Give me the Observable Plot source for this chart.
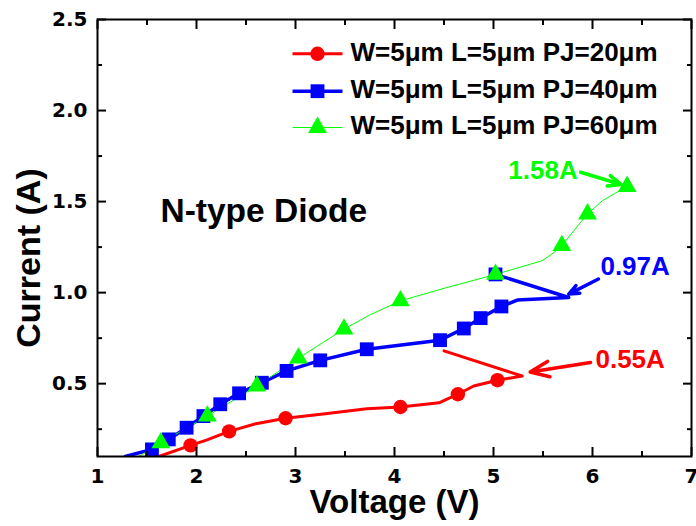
<!DOCTYPE html>
<html><head><meta charset="utf-8">
<script src="https://cdn.jsdelivr.net/npm/d3@7"></script>
<script src="https://cdn.jsdelivr.net/npm/@observablehq/plot@0.6"></script>
<style>html,body{margin:0;padding:0;background:#fff}</style>
</head><body><div id="chart"></div>
<script>
// ---- axes ----
const xTicks = [1, 2, 3, 4, 5, 6, 7];
const xTickLabels = ["1", "2", "3", "4", "5", "6", "7"];
const xMinor = [1.5, 2.5, 3.5, 4.5, 5.5, 6.5];
const yTicks = [0.5, 1.0, 1.5, 2.0, 2.5];
const yTickLabels = ["0.5", "1.0", "1.5", "2.0", "2.5"];
const yMinor = [0.25, 0.75, 1.25, 1.75, 2.25];
const xLabel = "Voltage (V)";
const yLabel = "Current (A)";

// ---- series (Voltage V, Current A) ----
const seriesNames = ["W=5\u03bcm L=5\u03bcm PJ=20\u03bcm", "W=5\u03bcm L=5\u03bcm PJ=40\u03bcm", "W=5\u03bcm L=5\u03bcm PJ=60\u03bcm"];
const seriesColors = ["#ff0000", "#0000ff", "#00ff00"];
const seriesSymbols = ["circle", "square", "triangle"];

const redLine = [[1.62,0.10],[1.94,0.161],[2.10,0.19],[2.33,0.238],[2.60,0.28],[2.90,0.31],[3.30,0.335],[3.72,0.362],[4.06,0.372],[4.45,0.395],[4.64,0.442],[4.80,0.487],[5.04,0.519],[5.29,0.542],[4.50,0.68]];
const redPts = [[1.94,0.161],[2.33,0.238],[2.90,0.31],[4.06,0.372],[4.64,0.442],[5.04,0.519]];

const blueLine = [[1.28,0.10],[1.55,0.139],[1.72,0.194],[1.90,0.258],[2.07,0.322],[2.24,0.387],[2.43,0.447],[2.66,0.505],[2.91,0.57],[3.25,0.628],[3.72,0.689],[4.46,0.739],[4.70,0.803],[4.87,0.86],[5.08,0.924],[5.24,0.959],[5.76,0.973],[5.02,1.10]];
const bluePts = [[1.35,0.064],[1.55,0.139],[1.72,0.194],[1.90,0.258],[2.07,0.322],[2.24,0.387],[2.43,0.447],[2.66,0.505],[2.91,0.57],[3.25,0.628],[3.72,0.689],[4.46,0.739],[4.70,0.803],[4.87,0.86],[5.08,0.924],[5.02,1.10]];

const greenLine = [[1.42,0.10],[1.64,0.175],[2.11,0.322],[2.61,0.487],[3.03,0.64],[3.49,0.80],[3.76,0.88],[4.06,0.955],[4.53,1.028],[5.02,1.10],[5.49,1.175],[5.61,1.22],[5.69,1.258],[5.88,1.386],[5.95,1.432],[6.10,1.505],[6.35,1.583]];
const greenPts = [[1.64,0.175],[2.11,0.322],[2.61,0.487],[3.03,0.64],[3.49,0.80],[4.06,0.955],[5.02,1.10],[5.69,1.258],[5.95,1.432],[6.35,1.583]];

// ---- annotations ----
const noteText = "N-type Diode";
const notePos = [1.636, 1.445];
const peakLabels = ["1.58A", "0.97A", "0.55A"];
const peakLabelX = [5.15, 6.08, 6.03];
const peakLabelY = [1.671, 1.142, 0.630];
const peakColors = ["#00ff00", "#0000ff", "#ff0000"];
const arrowX1 = [5.88, 6.06, 5.98];
const arrowY1 = [1.661, 1.075, 0.616];
const arrowX2 = [6.29, 5.76, 5.37];
const arrowY2 = [1.594, 0.992, 0.564];

const lineWidths = [3, 3.5, 1];
const markerR = [7.2, 7.8, 7];
const lines = [redLine, blueLine, greenLine];
const pts = [redPts, bluePts, greenPts];

const annots = peakLabels.map((t, i) => ({t, x: peakLabelX[i], y: peakLabelY[i], c: peakColors[i],
  x1: arrowX1[i], y1: arrowY1[i], x2: arrowX2[i], y2: arrowY2[i]}));

const lineSym = {draw(ctx) { ctx.moveTo(-25, 0); ctx.lineTo(25, 0); }};
const arial = "'Liberation Sans', Arial, Helvetica, sans-serif";
const tickFont = "'DejaVu Sans', sans-serif";

const marks = [];
// data
for (let s = 0; s < 3; s++) {
  marks.push(Plot.line(lines[s], {x: d => d[0], y: d => d[1], stroke: seriesColors[s], strokeWidth: lineWidths[s], clip: "frame"}));
}
for (let s = 0; s < 3; s++) {
  marks.push(Plot.dot(pts[s], {x: d => d[0], y: d => d[1], symbol: seriesSymbols[s], r: markerR[s], fill: seriesColors[s], stroke: "none", clip: "frame"}));
}
// arrows and labels
marks.push(Plot.arrow(annots, {x1: "x1", y1: "y1", x2: "x2", y2: "y2", stroke: "c", strokeWidth: 3.5, headLength: 15, headAngle: 45}));
marks.push(Plot.text(annots, {x: "x", y: "y", text: "t", fill: "c", textAnchor: "start", lineAnchor: "middle", fontSize: 26, fontWeight: "bold", fontFamily: arial}));
marks.push(Plot.text([noteText], {x: () => notePos[0], y: () => notePos[1], text: d => d, textAnchor: "start", lineAnchor: "middle", fontSize: 33.5, fontWeight: "bold", fontFamily: arial, fill: "black"}));

// legend
const legendDy = [34.3, 71.7, 108];
for (let s = 0; s < 3; s++) {
  marks.push(Plot.dot([0], {x: null, y: null, frameAnchor: "top-left", dx: 220, dy: legendDy[s], symbol: lineSym, r: 1, fill: "none", stroke: seriesColors[s], strokeWidth: lineWidths[s]}));
  marks.push(Plot.dot([0], {x: null, y: null, frameAnchor: "top-left", dx: 220, dy: legendDy[s], symbol: seriesSymbols[s], r: markerR[s], fill: seriesColors[s], stroke: "none"}));
  marks.push(Plot.text([seriesNames[s]], {x: null, y: null, frameAnchor: "top-left", dx: 253, dy: legendDy[s] - 1.5, text: d => d, textAnchor: "start", lineAnchor: "middle", fontSize: 26, fontWeight: "bold", fontFamily: arial, fill: "black"}));
}

// axes ticks (inward, all four sides)
const noText = () => "";
marks.push(Plot.axisX({ticks: xTicks, tickSize: -9, tickFormat: noText, label: null, strokeWidth: 2}));
marks.push(Plot.axisX({ticks: xMinor, tickSize: -5, tickFormat: noText, label: null, strokeWidth: 2}));
marks.push(Plot.axisX({anchor: "top", ticks: xTicks, tickSize: -9, tickFormat: noText, label: null, strokeWidth: 2}));
marks.push(Plot.axisX({anchor: "top", ticks: xMinor, tickSize: -5, tickFormat: noText, label: null, strokeWidth: 2}));
marks.push(Plot.axisY({ticks: yTicks, tickSize: -9, tickFormat: noText, label: null, strokeWidth: 2}));
marks.push(Plot.axisY({ticks: yMinor, tickSize: -5, tickFormat: noText, label: null, strokeWidth: 2}));
marks.push(Plot.axisY({anchor: "right", ticks: yTicks, tickSize: -9, tickFormat: noText, label: null, strokeWidth: 2}));
marks.push(Plot.axisY({anchor: "right", ticks: yMinor, tickSize: -5, tickFormat: noText, label: null, strokeWidth: 2}));
marks.push(Plot.frame({stroke: "black", strokeWidth: 2}));

// tick labels
marks.push(Plot.text(xTicks, {x: d => d, y: null, frameAnchor: "bottom", dy: 20, text: (d, i) => xTickLabels[i], textAnchor: "middle", lineAnchor: "middle", fontSize: 20, fontWeight: "bold", fontFamily: tickFont, fill: "black"}));
marks.push(Plot.text(yTicks, {x: null, y: d => d, frameAnchor: "left", dx: -10, text: (d, i) => yTickLabels[i], textAnchor: "end", lineAnchor: "middle", fontSize: 20, fontWeight: "bold", fontFamily: tickFont, fill: "black"}));
// axis titles
marks.push(Plot.text([xLabel], {x: null, y: null, frameAnchor: "bottom", dy: 46, text: d => d, textAnchor: "middle", lineAnchor: "middle", fontSize: 33, fontWeight: "bold", fontFamily: arial, fill: "black"}));
marks.push(Plot.text([yLabel], {x: null, y: null, frameAnchor: "left", dx: -68, dy: 20, rotate: -90, text: d => d, textAnchor: "middle", lineAnchor: "middle", fontSize: 34, fontWeight: "bold", fontFamily: arial, fill: "black"}));

const chart = Plot.plot({
  width: 696, height: 526,
  marginLeft: 97, marginRight: 5, marginTop: 19, marginBottom: 70,
  x: {domain: [1, 7]},
  y: {domain: [0.1, 2.5]},
  style: {background: "white", fontFamily: arial, overflow: "visible"},
  marks
});
document.getElementById("chart").appendChild(chart);
</script>
</body></html>
